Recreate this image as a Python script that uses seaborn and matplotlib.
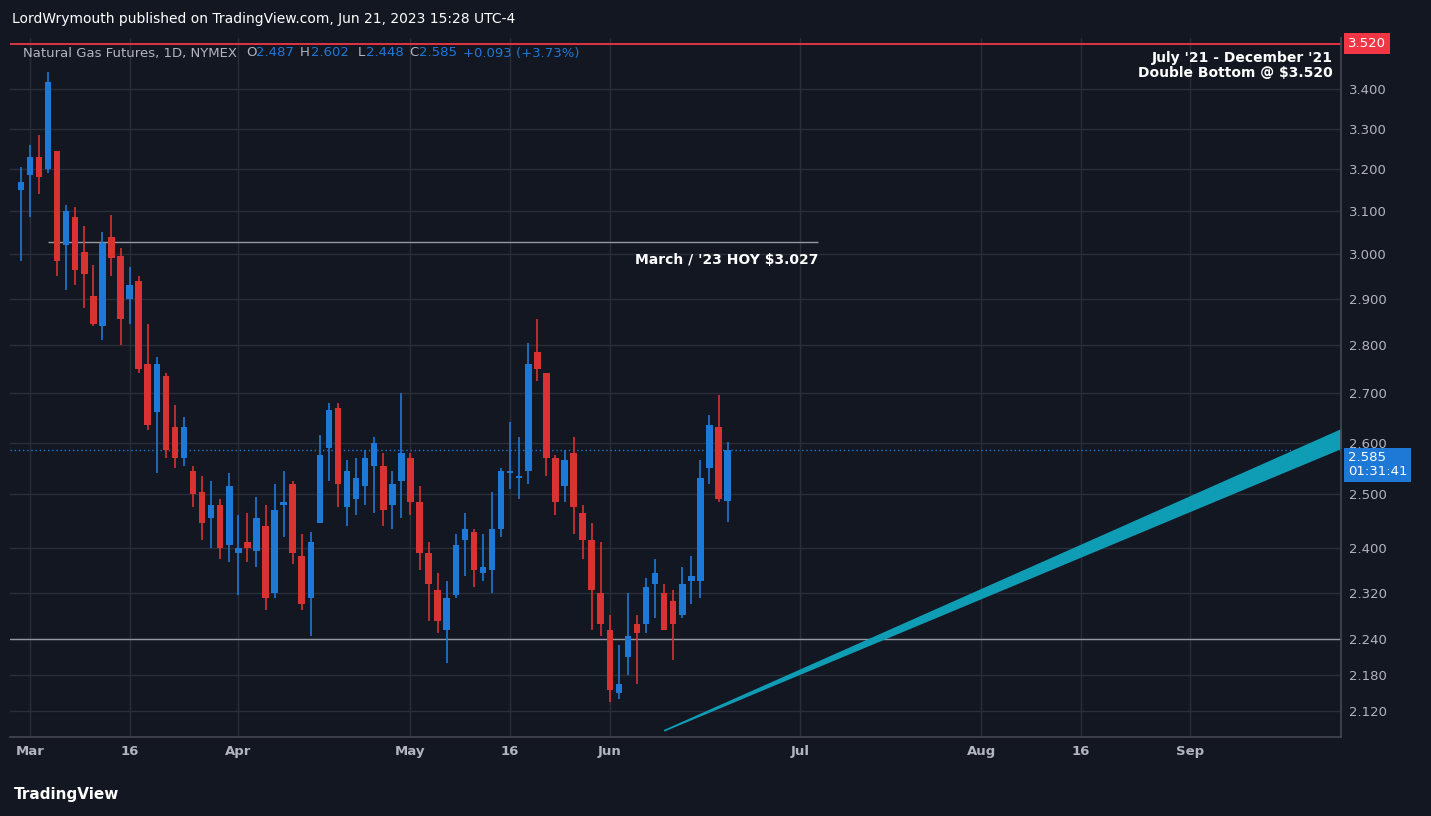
import numpy as np
import pandas as pd
import seaborn as sns
import matplotlib.pyplot as plt
from matplotlib.ticker import FixedLocator, NullLocator

# daily OHLC, Feb 28 - Jun 21 2023 (trading days)
opens = [3.15, 3.185, 3.23, 3.20, 3.245, 3.02, 3.085, 3.005, 2.905, 2.84,
         3.04, 2.995, 2.90, 2.94, 2.76, 2.66, 2.735, 2.63, 2.57, 2.545,
         2.505, 2.455, 2.48, 2.405, 2.39, 2.41, 2.395, 2.44, 2.32, 2.48,
         2.52, 2.385, 2.31, 2.445, 2.59, 2.67, 2.475, 2.49, 2.515, 2.555,
         2.555, 2.48, 2.525, 2.57, 2.485, 2.39, 2.325, 2.255, 2.315, 2.415,
         2.43, 2.355, 2.36, 2.435, 2.54, 2.53, 2.545, 2.785, 2.74, 2.57,
         2.515, 2.58, 2.465, 2.415, 2.32, 2.255, 2.15, 2.21, 2.265, 2.265,
         2.335, 2.32, 2.305, 2.28, 2.34, 2.34, 2.55, 2.63, 2.487]
highs = [3.205, 3.26, 3.285, 3.445, 3.245, 3.115, 3.11, 3.065, 2.975, 3.05,
         3.09, 3.015, 2.97, 2.95, 2.845, 2.775, 2.74, 2.675, 2.65, 2.555,
         2.535, 2.525, 2.49, 2.54, 2.46, 2.465, 2.495, 2.48, 2.52, 2.545,
         2.525, 2.425, 2.43, 2.615, 2.68, 2.68, 2.565, 2.57, 2.585, 2.61,
         2.58, 2.545, 2.70, 2.58, 2.515, 2.41, 2.355, 2.34, 2.425, 2.465,
         2.435, 2.425, 2.505, 2.55, 2.64, 2.61, 2.805, 2.855, 2.74, 2.575,
         2.585, 2.61, 2.48, 2.445, 2.41, 2.28, 2.23, 2.32, 2.28, 2.345,
         2.38, 2.335, 2.325, 2.365, 2.385, 2.565, 2.655, 2.695, 2.602]
lows = [2.985, 3.085, 3.14, 3.19, 2.95, 2.92, 2.93, 2.88, 2.84, 2.81,
        2.95, 2.80, 2.845, 2.74, 2.625, 2.54, 2.57, 2.55, 2.555, 2.475,
        2.415, 2.40, 2.38, 2.375, 2.315, 2.375, 2.365, 2.29, 2.31, 2.42,
        2.37, 2.29, 2.245, 2.445, 2.525, 2.475, 2.44, 2.46, 2.48, 2.465,
        2.44, 2.435, 2.455, 2.46, 2.36, 2.27, 2.25, 2.20, 2.31, 2.35,
        2.33, 2.34, 2.32, 2.42, 2.51, 2.49, 2.52, 2.725, 2.535, 2.46,
        2.485, 2.425, 2.38, 2.255, 2.245, 2.135, 2.14, 2.18, 2.165, 2.25,
        2.275, 2.255, 2.205, 2.275, 2.30, 2.31, 2.52, 2.485, 2.448]
closes = [3.17, 3.23, 3.18, 3.42, 2.985, 3.10, 2.965, 2.955, 2.845, 3.025,
          2.99, 2.855, 2.93, 2.75, 2.635, 2.76, 2.585, 2.57, 2.63, 2.50,
          2.445, 2.48, 2.40, 2.515, 2.40, 2.40, 2.455, 2.31, 2.47, 2.485,
          2.39, 2.30, 2.41, 2.575, 2.665, 2.52, 2.545, 2.53, 2.57, 2.60,
          2.47, 2.52, 2.58, 2.485, 2.39, 2.335, 2.27, 2.31, 2.405, 2.435,
          2.36, 2.365, 2.435, 2.545, 2.545, 2.535, 2.76, 2.75, 2.57, 2.485,
          2.565, 2.475, 2.415, 2.325, 2.265, 2.155, 2.165, 2.245, 2.25, 2.33,
          2.355, 2.255, 2.265, 2.335, 2.35, 2.53, 2.635, 2.49, 2.585]

x_tick_pos = [1, 12, 24, 43, 54, 65, 86, 106, 117, 129]
x_tick_labels = ["Mar", "16", "Apr", "May", "16", "Jun", "Jul", "Aug", "16", "Sep"]
y_ticks = [2.12, 2.18, 2.24, 2.32, 2.40, 2.50, 2.60, 2.70, 2.80, 2.90, 3.00,
           3.10, 3.20, 3.30, 3.40]

hoy_level = 3.027
double_bottom = 3.520
support = 2.24
last_price = 2.585
trend_x = [71, 145.7]
trend_lo = [2.09, 2.59]
trend_hi = [2.09, 2.626]

df = pd.DataFrame({"open": opens, "high": highs, "low": lows, "close": closes})
df["idx"] = np.arange(len(df))
df["up"] = df["close"] >= df["open"]

BG = "#131722"
GRID = "#2a2e39"
TXT = "#b2b5be"
UP = "#1e78d6"
DN = "#d93232"

sns.set_theme(style="dark", rc={"axes.facecolor": BG, "figure.facecolor": BG,
                                "font.family": "DejaVu Sans"})
fig = plt.figure(figsize=(14.31, 8.16), dpi=100)
ax = fig.add_axes([10 / 1431, 79 / 816, 1331 / 1431, 699 / 816])
ax.set_facecolor(BG)
ax.set_yscale("log")
ax.set_xlim(-1.2, 145.7)
ax.set_ylim(2.079, 3.535)

for xv in x_tick_pos:
    ax.axvline(xv, color=GRID, lw=1, zorder=0)
for yv in y_ticks:
    ax.axhline(yv, color=GRID, lw=1, zorder=0)

colors = np.where(df["up"], UP, DN)
ax.vlines(df["idx"], df["low"], df["high"], colors=colors, lw=1.2, zorder=3)
bottoms = np.minimum(df["open"], df["close"])
heights = np.maximum(np.abs(df["close"] - df["open"]), 0.004)
ax.bar(df["idx"], heights, bottom=bottoms, width=0.72, color=colors,
       edgecolor="none", linewidth=0, zorder=4)

# lines
ax.axhline(double_bottom, color="#f23645", lw=1.3, zorder=2)
ax.hlines(hoy_level, 3, 88, color="#9598a1", lw=1, zorder=2)
ax.axhline(support, color="#9598a1", lw=1, zorder=2)
ax.axhline(last_price, color=UP, lw=1, ls=(0, (1, 2)), zorder=2)
ax.fill_between(trend_x, trend_lo, trend_hi, color="#0f9db5", lw=1.2,
                edgecolor="#0f9db5", zorder=2)

ax.text(88, hoy_level * 0.992, "March / '23 HOY $3.027", color="white",
        fontsize=10, fontweight="bold", ha="right", va="top")
ax.text(144.8, 3.50, "July '21 - December '21\nDouble Bottom @ $3.520",
        color="white", fontsize=10, fontweight="bold", ha="right", va="top",
        linespacing=1.1)

ax.xaxis.set_major_locator(FixedLocator(x_tick_pos))
ax.set_xticklabels(x_tick_labels)
ax.yaxis.set_major_locator(FixedLocator(y_ticks))
ax.yaxis.set_minor_locator(NullLocator())
ax.set_yticklabels([f"{v:.3f}" for v in y_ticks])
ax.yaxis.tick_right()
ax.tick_params(colors=TXT, labelsize=9.5, length=0, pad=6)
for lab in ax.get_xticklabels():
    lab.set_fontweight("bold")
for s in ax.spines.values():
    s.set_visible(False)
ax.spines["right"].set_visible(True)
ax.spines["right"].set_color("#434651")
ax.spines["bottom"].set_visible(True)
ax.spines["bottom"].set_color("#434651")

# right-hand price boxes
ax.text(1.005, double_bottom, "3.520", transform=ax.get_yaxis_transform(),
        color="white", fontsize=9.5, va="center", ha="left",
        bbox=dict(boxstyle="square,pad=0.3", fc="#f23645", ec="none"))
ax.text(1.005, last_price * 0.989, "2.585\n01:31:41", transform=ax.get_yaxis_transform(),
        color="white", fontsize=9.5, va="center", ha="left", linespacing=1.05,
        bbox=dict(boxstyle="square,pad=0.3", fc="#1e78d6", ec="none"))

# header
fig.text(12 / 1431, 1 - 19 / 816,
         "LordWrymouth published on TradingView.com, Jun 21, 2023 15:28 UTC-4",
         color="white", fontsize=10, va="center")
y_leg = 1 - 53 / 816
fig.text(23 / 1431, y_leg, "Natural Gas Futures, 1D, NYMEX", color=TXT,
         fontsize=9.5, va="center")
parts = [("O", TXT, 246), ("2.487", UP, 256), ("H", TXT, 300), ("2.602", UP, 311),
         ("L", TXT, 358), ("2.448", UP, 366), ("C", TXT, 409), ("2.585", UP, 419),
         ("+0.093 (+3.73%)", UP, 463)]
for t, c, xp in parts:
    fig.text(xp / 1431, y_leg, t, color=c, fontsize=9.5, va="center")
fig.text(14 / 1431, 1 - 795 / 816, "TradingView", color="white", fontsize=11,
         fontweight="bold", va="center")

fig.savefig("out.png", dpi=100, facecolor=BG)
